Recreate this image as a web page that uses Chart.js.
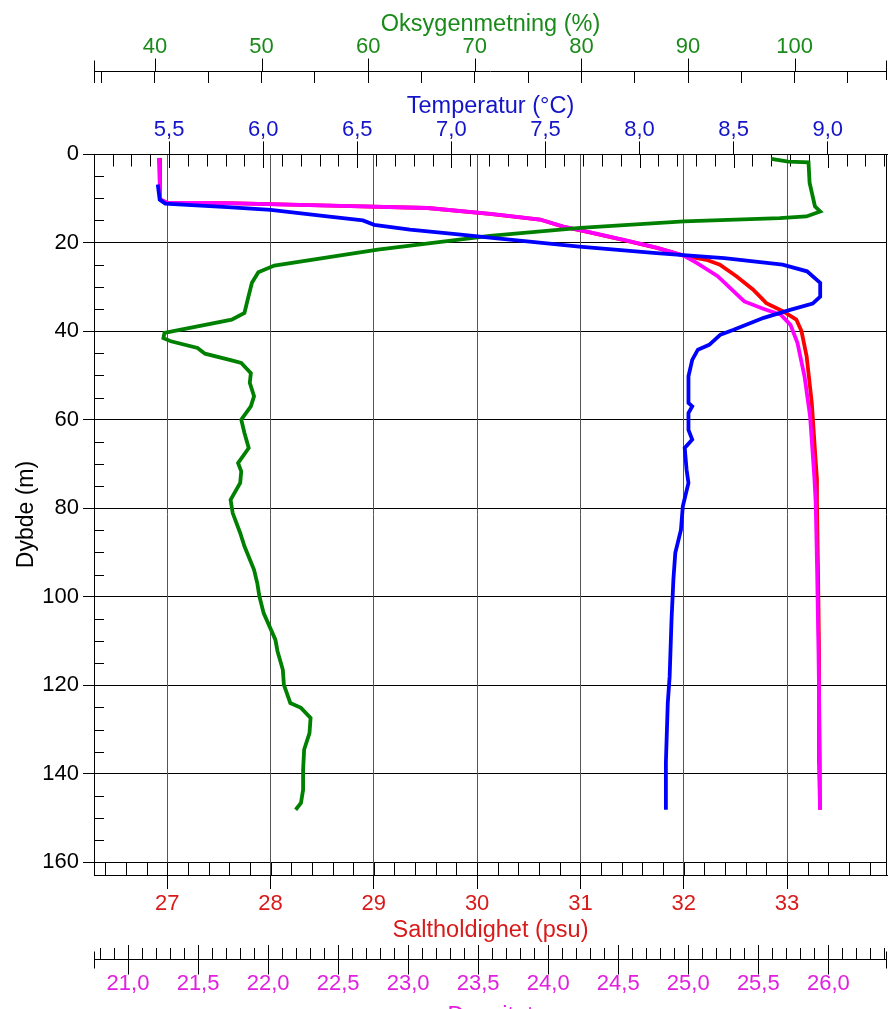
<!DOCTYPE html>
<html>
<head>
<meta charset="utf-8">
<script src="https://cdn.jsdelivr.net/npm/chart.js@4/dist/chart.umd.min.js"></script>
<style>
html,body{margin:0;padding:0;overflow:hidden;background:#fff;}
#wrap{position:relative;width:888px;height:1030px;}
canvas{display:block;}
</style>
</head>
<body>
<div id="wrap"><canvas id="c" width="888" height="1030"></canvas></div>
<script>
// ---------- data ----------
const oxyDepth = [1.1,1.7,1.9,6.5,11.8,13.0,14.1,14.5,15.2,16.7,18.5,21.6,25.2,26.7,29.1,32.9,35.9,37.4,40.4,41.6,42.3,43.8,45.1,46.6,47.2,49.5,51.7,54.7,57.0,60.0,63.0,66.4,69.8,71.7,74.3,78.1,81.1,85.6,88.6,93.9,96.9,99.9,103.7,109.7,112.3,116.5,119.9,124.0,125.1,127.4,130.8,134.5,139.1,143.6,146.6,148.1];
const oxyValues = [97.8,99.4,101.3,101.4,101.9,102.4,101.1,98.6,89.6,79.9,71.4,60.9,51.2,49.7,49.1,48.7,48.4,47.2,40.9,40.8,41.5,44.0,44.7,47.2,48.1,49.0,48.9,49.3,49.0,48.1,48.4,48.8,47.8,48.1,48.0,47.1,47.3,48.0,48.4,49.3,49.6,49.8,50.2,51.3,51.5,52.0,52.1,52.7,53.7,54.6,54.5,54.0,53.9,53.9,53.7,53.2];

const tempDepth = [6.9,10.3,11.2,12.0,12.6,14.1,15.0,16.0,17.1,18.2,19.0,20.9,22.4,23.5,25.0,26.5,29.1,32.2,33.8,35.2,37.0,39.7,40.8,43.1,44.2,46.5,50.2,56.2,57.0,58.5,62.3,64.5,66.4,71.3,74.3,79.6,84.9,90.1,96.1,105.2,118.0,124.0,137.5,148.1];
const tempValues = [5.44,5.45,5.48,5.81,6.04,6.34,6.53,6.59,6.78,7.05,7.23,7.68,8.09,8.45,8.76,8.89,8.96,8.96,8.92,8.80,8.66,8.50,8.43,8.37,8.31,8.28,8.26,8.26,8.28,8.26,8.26,8.28,8.24,8.25,8.26,8.23,8.22,8.19,8.18,8.17,8.16,8.15,8.14,8.14];

const salDepth = [0.9,10.3,11.0,11.1,11.7,12.2,13.5,14.8,16.4,17.7,19.4,21.2,23.0,23.9,25.0,27.6,30.6,33.7,35.5,37.4,40.0,45.7,56.2,66.8,73.6,78.8,93.9,112.3,137.0,148.1];
const salValues = [26.93,26.93,27.00,27.58,28.68,29.52,30.12,30.61,30.83,31.09,31.41,31.74,32.01,32.22,32.35,32.51,32.67,32.80,32.96,33.09,33.14,33.19,33.24,33.27,33.29,33.29,33.30,33.31,33.31,33.32];

const densDepth = [0.9,10.3,11.0,11.1,11.7,12.2,13.5,14.8,16.4,17.7,19.4,21.2,23.0,24.6,27.6,30.3,33.3,35.0,36.3,38.6,42.7,50.2,59.3,72.8,78.8,93.9,112.3,137.0,148.1];
const densValues = [21.22,21.23,21.28,21.71,22.52,23.14,23.59,23.94,24.11,24.30,24.54,24.78,24.97,25.06,25.21,25.30,25.40,25.54,25.66,25.73,25.78,25.83,25.87,25.90,25.91,25.92,25.93,25.94,25.94];

// axis ranges / tick steps
const depthRange = [0, 162.85];
const depthStep = 20, depthMinorStep = 5;
const oxyRange = [34.29, 108.66];
const tempRange = [5.101, 9.315];
const salRange = [26.291, 33.968];
const densRange = [20.757, 26.419];

// titles
const titleOxy = 'Oksygenmetning (%)';
const titleTemp = 'Temperatur (°C)';
const titleSal = 'Saltholdighet (psu)';
const titleDens = 'Densitet';
const titleDepth = 'Dybde (m)';

// ---------- chart ----------
const FONT = "'Liberation Sans', Arial, Helvetica, sans-serif";
Chart.defaults.font.family = FONT;
const GREEN = '#008000', BLUE = '#0000ff', RED = '#ff0000', MAG = '#ff00ff';
const GREEN_T = '#1a8a1a', BLUE_T = '#1414c8', RED_T = '#d81a1a', MAG_T = '#e020e0';
const TICK_FONT = 22, TITLE_FONT = 23.5;
const comma = v => (Math.round(v * 10) / 10).toFixed(1).replace('.', ',');
const pts = (depths, vals) => depths.map((d, i) => ({ x: vals[i], y: d }));

const extras = {
  id: 'extras',
  beforeDatasetsDraw(chart) {
    const { ctx, chartArea: a, scales: s } = chart;
    ctx.save();
    ctx.strokeStyle = '#000';
    ctx.lineWidth = 1;
    const line = (x1, y1, x2, y2) => { ctx.beginPath(); ctx.moveTo(x1, y1); ctx.lineTo(x2, y2); ctx.stroke(); };
    const px = v => Math.round(v) + 0.5;
    // temperature ticks hanging into plot (every 0.1)
    for (let k = 52; k <= 93; k++) {
      const x = px(s.xT.getPixelForValue(k / 10));
      line(x, a.top, x, a.top + (k % 5 === 0 ? 14 : 12.5));
    }
    // salinity minor ticks rising into plot (every 0.2)
    for (let k = 132; k <= 169; k++) {
      const x = px(s.xS.getPixelForValue(k / 5));
      line(x, a.bottom, x, a.bottom - 12.5);
    }
    // depth minor ticks
    for (let d = depthMinorStep; d < depthRange[1]; d += depthMinorStep) {
      if (d % depthStep === 0) continue;
      const y = px(s.y.getPixelForValue(d));
      line(a.left, y, a.left + 10, y);
    }
    // right border
    const xr = px(a.right) - 1;
    line(xr, a.top, xr, a.bottom);
    ctx.restore();
  },
  afterDraw(chart) {
    const { ctx, scales: s } = chart;
    ctx.save();
    ctx.strokeStyle = '#000';
    ctx.lineWidth = 1;
    const line = (x1, y1, x2, y2) => { ctx.beginPath(); ctx.moveTo(x1, y1); ctx.lineTo(x2, y2); ctx.stroke(); };
    const px = v => Math.round(v) + 0.5;
    // oxygen axis line (ticks hang below it)
    const o = s.xO;
    const yo = px(o.bottom - 12);
    line(o.left, yo, o.right, yo);
    for (let v = 40; v <= 100; v += 10) {
      const x = px(o.getPixelForValue(v));
      line(x, yo - 13, x, yo);
    }
    line(px(o.left), yo - 11, px(o.left), o.bottom);
    line(px(o.right) - 1, yo - 11, px(o.right) - 1, o.bottom - 3);
    // density axis line (ticks rise above it)
    const dn = s.xD;
    const yd = px(dn.top + 11);
    line(dn.left, yd, dn.right, yd);
    for (let k = 42; k <= 52; k++) {
      const x = px(dn.getPixelForValue(k / 2));
      line(x, dn.top - 3, x, yd + 15);
    }
    line(px(dn.left), yd - 8, px(dn.left), yd + 9);
    line(px(dn.right) - 1, yd - 8, px(dn.right) - 1, yd + 9);
    ctx.restore();
  }
};

const lineStyle = c => ({ showLine: true, borderColor: c, backgroundColor: c, borderWidth: 3.8, pointRadius: 0, tension: 0 });

new Chart(document.getElementById('c'), {
  type: 'scatter',
  data: {
    datasets: [
      Object.assign({ label: 'Temperatur', data: pts(tempDepth, tempValues), xAxisID: 'xT', yAxisID: 'y' }, lineStyle(BLUE)),
      Object.assign({ label: 'Oksygenmetning', data: pts(oxyDepth, oxyValues), xAxisID: 'xO', yAxisID: 'y' }, lineStyle(GREEN)),
      Object.assign({ label: 'Densitet', data: pts(densDepth, densValues), xAxisID: 'xD', yAxisID: 'y' }, lineStyle(MAG)),
      Object.assign({ label: 'Saltholdighet', data: pts(salDepth, salValues), xAxisID: 'xS', yAxisID: 'y' }, lineStyle(RED))
    ]
  },
  options: {
    responsive: false,
    animation: false,
    layout: { padding: { left: 0, right: 1, top: 0, bottom: 0 } },
    plugins: { legend: { display: false }, tooltip: { enabled: false }, title: { display: false } },
    scales: {
      y: {
        type: 'linear', position: 'left', reverse: true,
        min: depthRange[0], max: depthRange[1],
        ticks: { stepSize: depthStep, includeBounds: false, color: '#000', font: { size: TICK_FONT }, padding: 4 },
        grid: { color: '#000', lineWidth: 1, tickLength: 11, tickColor: '#000' },
        border: { display: true, color: '#000', width: 1 },
        title: { display: true, text: titleDepth, color: '#000', font: { size: 23 }, padding: { top: 13, bottom: 0 } },
        afterFit(sc) { sc.width = 94; }
      },
      xT: {
        type: 'linear', position: 'top', weight: 0,
        min: tempRange[0], max: tempRange[1],
        ticks: { stepSize: 0.5, includeBounds: false, autoSkip: false, maxRotation: 0, color: BLUE_T,
                 font: { size: TICK_FONT, lineHeight: 1 }, padding: 0, callback: v => comma(v) },
        grid: { drawOnChartArea: false, tickLength: 12.6, tickColor: '#000', color: '#000' },
        border: { display: true, color: '#000', width: 1 },
        title: { display: true, text: titleTemp, color: BLUE_T, font: { size: TITLE_FONT }, padding: { top: 9, bottom: 0 } },
        afterFit(sc) { sc.height = 71; }
      },
      xO: {
        type: 'linear', position: 'top', weight: 1,
        min: oxyRange[0], max: oxyRange[1],
        ticks: { stepSize: 5, includeBounds: false, autoSkip: false, maxRotation: 0, color: GREEN_T,
                 font: { size: TICK_FONT, lineHeight: 1 }, padding: 13,
                 callback: v => (Math.round(v) % 10 === 0 ? String(Math.round(v)) : '') },
        grid: { drawOnChartArea: false, tickLength: 12, tickColor: '#000', color: '#000' },
        border: { display: false },
        title: { display: true, text: titleOxy, color: GREEN_T, font: { size: TITLE_FONT }, padding: { top: 10, bottom: 0 } },
        afterFit(sc) { sc.height = 83; }
      },
      xS: {
        type: 'linear', position: 'bottom', weight: 0,
        min: salRange[0], max: salRange[1],
        ticks: { stepSize: 1, includeBounds: false, autoSkip: false, maxRotation: 0, color: RED_T,
                 font: { size: TICK_FONT, lineHeight: 1 }, padding: 4, callback: v => String(Math.round(v)) },
        grid: { drawOnChartArea: true, color: '#555', lineWidth: 1, tickLength: 14, tickColor: '#000' },
        border: { display: true, color: '#000', width: 1 },
        title: { display: true, text: titleSal, color: RED_T, font: { size: TITLE_FONT }, padding: { top: 0, bottom: 3 } },
        afterFit(sc) { sc.height = 73; }
      },
      xD: {
        type: 'linear', position: 'bottom', weight: 1,
        min: densRange[0], max: densRange[1],
        ticks: { stepSize: 0.1, includeBounds: false, autoSkip: false, maxRotation: 0, color: MAG_T,
                 font: { size: TICK_FONT, lineHeight: 50 / TICK_FONT }, padding: 0,
                 callback: v => (Math.abs(v * 2 - Math.round(v * 2)) < 1e-6 ? comma(v) : '') },
        grid: { drawOnChartArea: false, tickLength: 11, tickColor: '#000', color: '#000' },
        border: { display: false },
        title: { display: true, text: titleDens, color: MAG_T, font: { size: TITLE_FONT }, padding: { top: 0, bottom: -1 } },
        afterFit(sc) { sc.height = 82; }
      }
    }
  },
  plugins: [extras]
});
</script>
</body>
</html>
